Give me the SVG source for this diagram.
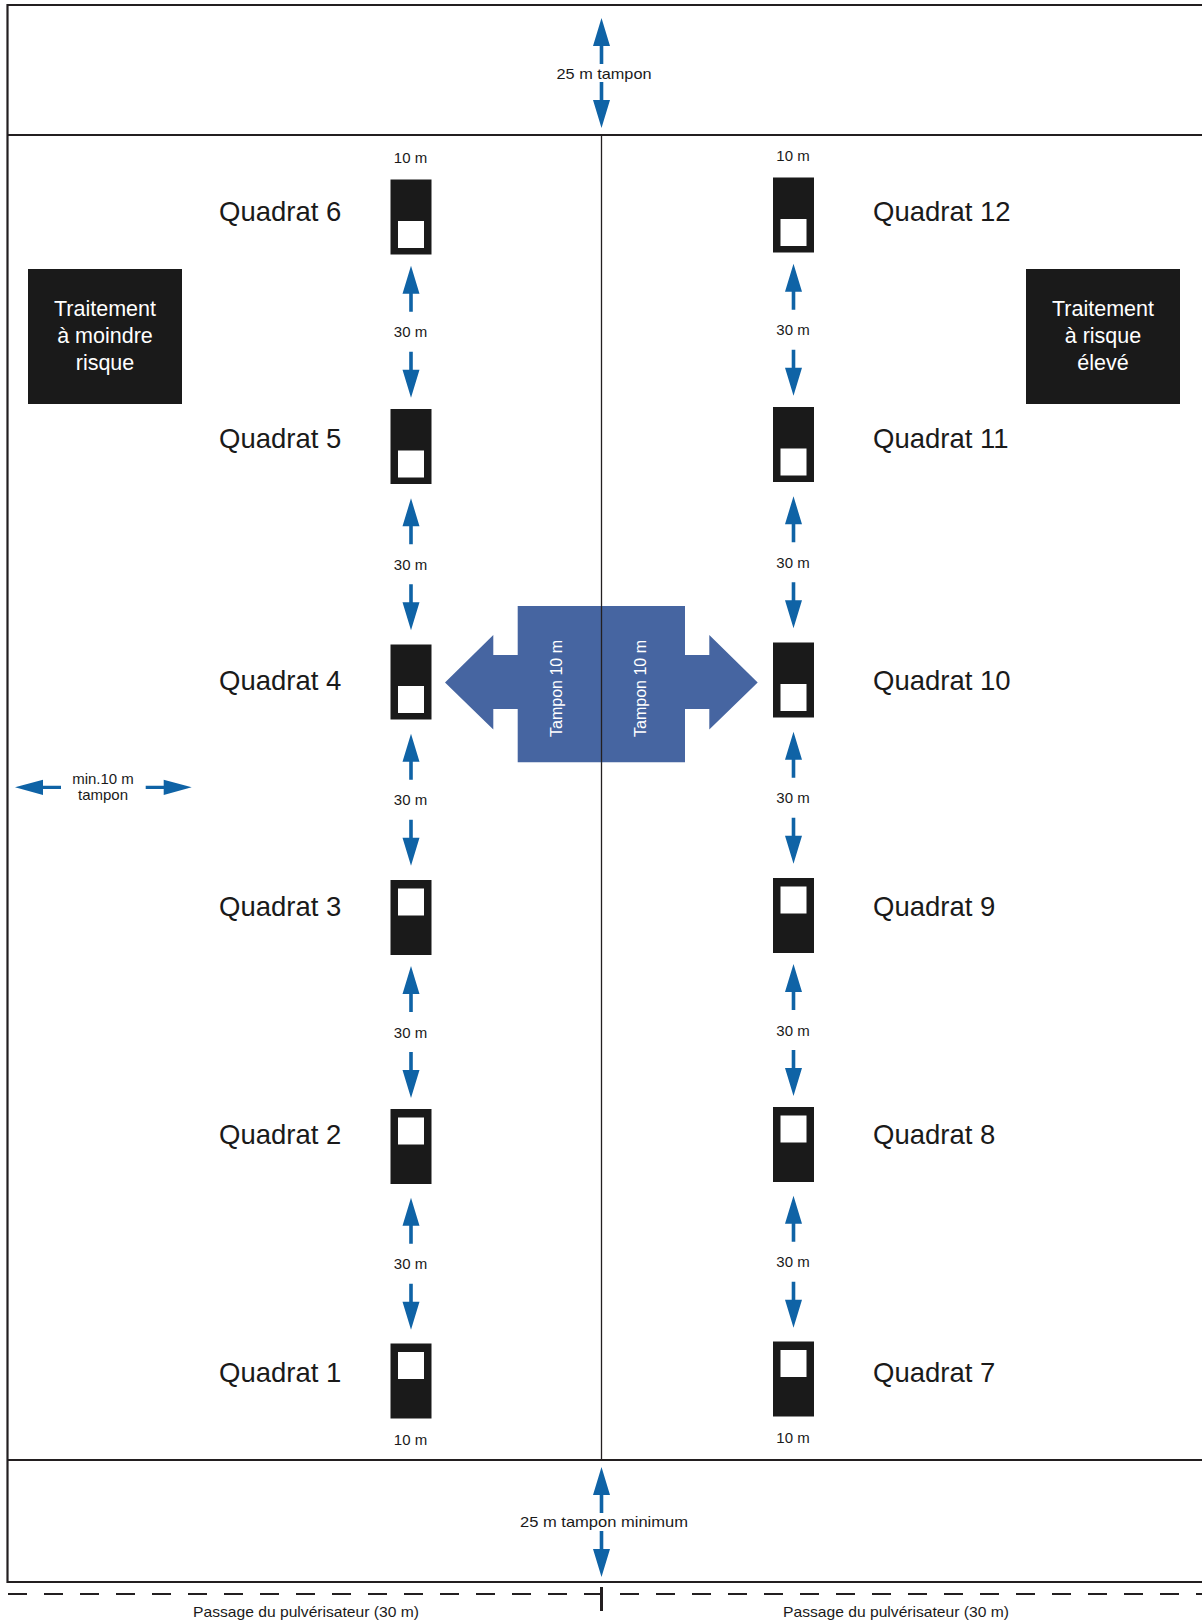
<svg xmlns="http://www.w3.org/2000/svg" xmlns:xlink="http://www.w3.org/1999/xlink" width="1202" height="1621" viewBox="0 0 1202 1621">
<style>
.frame{stroke:#231f20;stroke-width:2.2;fill:none}
.thin{stroke:#231f20;stroke-width:1.3;fill:none}
.blk{fill:#1a1a1a}
.wht{fill:#ffffff}
.arr{fill:#0f63a6}
.lbl{font-family:"Liberation Sans",Arial,sans-serif;font-size:27.5px;fill:#1a1a1a}
.sm{font-family:"Liberation Sans",Arial,sans-serif;font-size:15px;fill:#1a1a1a;text-anchor:middle}
.cond{font-family:"Liberation Sans",Arial,sans-serif;font-size:15px;fill:#1a1a1a;text-anchor:middle}
.box{font-family:"Liberation Sans",Arial,sans-serif;font-size:21.5px;fill:#ffffff;text-anchor:middle}
.tmp{font-family:"Liberation Sans",Arial,sans-serif;font-size:16px;fill:#ffffff;text-anchor:middle}
</style>
<defs>
<path id="up" d="M0,0 L8.5,28 L1.8,28 L1.8,46 L-1.8,46 L-1.8,28 L-8.5,28 Z"/>
</defs>
<rect width="1202" height="1621" fill="#ffffff"/>

<g id="frame">
<line class="frame" x1="7.5" y1="5" x2="1202" y2="5"/>
<line class="frame" x1="7.5" y1="135" x2="1202" y2="135"/>
<line class="frame" x1="7.5" y1="1460" x2="1202" y2="1460"/>
<line class="frame" x1="7.5" y1="1582" x2="1202" y2="1582"/>
<line class="frame" x1="7.5" y1="4" x2="7.5" y2="1583"/>
<line class="thin" x1="601.5" y1="135" x2="601.5" y2="1460"/>
<line x1="8" y1="1594" x2="1202" y2="1594" stroke="#231f20" stroke-width="2.2" stroke-dasharray="19 17"/>
<line x1="601.5" y1="1587" x2="601.5" y2="1611" stroke="#231f20" stroke-width="3"/>
</g>

<g id="buffer-center">
<path fill="#4665a1" d="M445,682.5 L493.3,635 L493.3,655 L517.7,655 L517.7,606 L685,606 L685,655 L709.3,655 L709.3,635 L757.7,682.5 L709.3,729.5 L709.3,709 L685,709 L685,762.3 L517.7,762.3 L517.7,709 L493.3,709 L493.3,729.5 Z"/>
<line class="thin" x1="601.5" y1="606" x2="601.5" y2="762.3"/>
<text class="tmp" transform="translate(562,688.5) rotate(-90)" textLength="97" lengthAdjust="spacingAndGlyphs">Tampon 10 m</text>
<text class="tmp" transform="translate(646,688.5) rotate(-90)" textLength="97" lengthAdjust="spacingAndGlyphs">Tampon 10 m</text>
</g>

<g id="treat-low">
<rect class="blk" x="28" y="269" width="154" height="135"/>
<text class="box" x="105" y="316">Traitement</text>
<text class="box" x="105" y="343">à moindre</text>
<text class="box" x="105" y="370">risque</text>
</g>
<g id="treat-high">
<rect class="blk" x="1026" y="269" width="154" height="135"/>
<text class="box" x="1103" y="316">Traitement</text>
<text class="box" x="1103" y="343">à risque</text>
<text class="box" x="1103" y="370">élevé</text>
</g>

<g id="q6"><rect class="blk" x="390.5" y="179.5" width="41" height="75"/><rect class="wht" x="398" y="221" width="26" height="27"/><text class="lbl" x="219" y="221">Quadrat 6</text></g>
<g id="q5"><rect class="blk" x="390.5" y="409" width="41" height="75"/><rect class="wht" x="398" y="450.5" width="26" height="27"/><text class="lbl" x="219" y="447.5">Quadrat 5</text></g>
<g id="q4"><rect class="blk" x="390.5" y="644.5" width="41" height="75"/><rect class="wht" x="398" y="686" width="26" height="27"/><text class="lbl" x="219" y="690">Quadrat 4</text></g>
<g id="q3"><rect class="blk" x="390.5" y="880" width="41" height="75"/><rect class="wht" x="398" y="888.5" width="26" height="27"/><text class="lbl" x="219" y="915.5">Quadrat 3</text></g>
<g id="q2"><rect class="blk" x="390.5" y="1109" width="41" height="75"/><rect class="wht" x="398" y="1117.5" width="26" height="27"/><text class="lbl" x="219" y="1143.5">Quadrat 2</text></g>
<g id="q1"><rect class="blk" x="390.5" y="1343.5" width="41" height="75"/><rect class="wht" x="398" y="1352" width="26" height="27"/><text class="lbl" x="219" y="1382">Quadrat 1</text></g>

<g id="q12"><rect class="blk" x="773" y="177.5" width="41" height="75"/><rect class="wht" x="780.5" y="219" width="26" height="27"/><text class="lbl" x="873" y="221">Quadrat 12</text></g>
<g id="q11"><rect class="blk" x="773" y="407" width="41" height="75"/><rect class="wht" x="780.5" y="448.5" width="26" height="27"/><text class="lbl" x="873" y="447.5">Quadrat 11</text></g>
<g id="q10"><rect class="blk" x="773" y="642.5" width="41" height="75"/><rect class="wht" x="780.5" y="684" width="26" height="27"/><text class="lbl" x="873" y="690">Quadrat 10</text></g>
<g id="q9"><rect class="blk" x="773" y="878" width="41" height="75"/><rect class="wht" x="780.5" y="886.5" width="26" height="27"/><text class="lbl" x="873" y="915.5">Quadrat 9</text></g>
<g id="q8"><rect class="blk" x="773" y="1107" width="41" height="75"/><rect class="wht" x="780.5" y="1115.5" width="26" height="27"/><text class="lbl" x="873" y="1143.5">Quadrat 8</text></g>
<g id="q7"><rect class="blk" x="773" y="1341.5" width="41" height="75"/><rect class="wht" x="780.5" y="1350" width="26" height="27"/><text class="lbl" x="873" y="1382">Quadrat 7</text></g>

<g id="connectors" class="arr">
<use xlink:href="#up" transform="translate(601.5,18)"/>
<use xlink:href="#up" transform="translate(601.5,128) scale(1,-1)"/>
<use xlink:href="#up" transform="translate(601.5,1467)"/>
<use xlink:href="#up" transform="translate(601.5,1577) scale(1,-1)"/>
<use xlink:href="#up" transform="translate(15,787.3) rotate(-90) scale(0.9,1)"/>
<use xlink:href="#up" transform="translate(191.7,787.3) rotate(90) scale(0.9,1)"/>
<use xlink:href="#up" transform="translate(411,265.75)"/>
<use xlink:href="#up" transform="translate(411,397.75) scale(1,-1)"/>
<use xlink:href="#up" transform="translate(411,498.25)"/>
<use xlink:href="#up" transform="translate(411,630.25) scale(1,-1)"/>
<use xlink:href="#up" transform="translate(411,733.75)"/>
<use xlink:href="#up" transform="translate(411,865.75) scale(1,-1)"/>
<use xlink:href="#up" transform="translate(411,966)"/>
<use xlink:href="#up" transform="translate(411,1098) scale(1,-1)"/>
<use xlink:href="#up" transform="translate(411,1197.75)"/>
<use xlink:href="#up" transform="translate(411,1329.75) scale(1,-1)"/>
<use xlink:href="#up" transform="translate(793.5,263.75)"/>
<use xlink:href="#up" transform="translate(793.5,395.75) scale(1,-1)"/>
<use xlink:href="#up" transform="translate(793.5,496.25)"/>
<use xlink:href="#up" transform="translate(793.5,628.25) scale(1,-1)"/>
<use xlink:href="#up" transform="translate(793.5,731.75)"/>
<use xlink:href="#up" transform="translate(793.5,863.75) scale(1,-1)"/>
<use xlink:href="#up" transform="translate(793.5,964)"/>
<use xlink:href="#up" transform="translate(793.5,1096) scale(1,-1)"/>
<use xlink:href="#up" transform="translate(793.5,1195.75)"/>
<use xlink:href="#up" transform="translate(793.5,1327.75) scale(1,-1)"/>
</g>

<g id="labels">
<text class="cond" x="604" y="79" font-size="16" textLength="95" lengthAdjust="spacingAndGlyphs">25 m tampon</text>
<text class="cond" x="604" y="1527" font-size="16" textLength="168" lengthAdjust="spacingAndGlyphs">25 m tampon minimum</text>
<text class="cond" x="306" y="1617" textLength="226" lengthAdjust="spacingAndGlyphs">Passage du pulvérisateur (30 m)</text>
<text class="cond" x="896" y="1617" textLength="226" lengthAdjust="spacingAndGlyphs">Passage du pulvérisateur (30 m)</text>
<text class="sm" x="103" y="784" font-size="14.5">min.10 m</text>
<text class="sm" x="103" y="800" font-size="14.5">tampon</text>
<text class="sm" x="410.5" y="163">10 m</text>
<text class="sm" x="793" y="160.5">10 m</text>
<text class="sm" x="410.5" y="1445">10 m</text>
<text class="sm" x="793" y="1443">10 m</text>
<text class="sm" x="410.5" y="337">30 m</text>
<text class="sm" x="410.5" y="569.5">30 m</text>
<text class="sm" x="410.5" y="805">30 m</text>
<text class="sm" x="410.5" y="1037.5">30 m</text>
<text class="sm" x="410.5" y="1269">30 m</text>
<text class="sm" x="793" y="335">30 m</text>
<text class="sm" x="793" y="567.5">30 m</text>
<text class="sm" x="793" y="803">30 m</text>
<text class="sm" x="793" y="1035.5">30 m</text>
<text class="sm" x="793" y="1267">30 m</text>
</g>
</svg>
